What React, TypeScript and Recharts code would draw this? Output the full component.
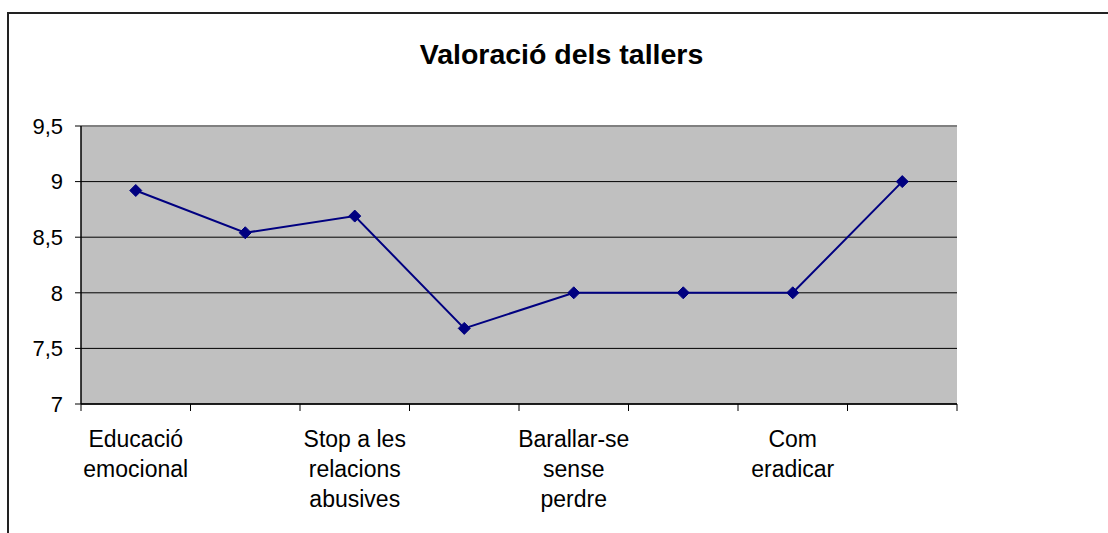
import React from 'react';
import { LineChart, Line, XAxis, YAxis, CartesianGrid, ReferenceLine } from 'recharts';

const chartTitle = 'Valoració dels tallers';
// tick labels, one entry per category (unlabelled categories are empty), split in lines
const xLabelLines: string[][] = [
  ['Educació', 'emocional'],
  [],
  ['Stop a les', 'relacions', 'abusives'],
  [],
  ['Barallar-se', 'sense', 'perdre'],
  [],
  ['Com', 'eradicar'],
  [],
];
const ratings = [8.92, 8.54, 8.69, 7.68, 8.0, 8.0, 8.0, 9.0];
const yTicks = [7, 7.5, 8, 8.5, 9, 9.5];

const data = ratings.map((v, i) => ({ idx: i, value: v }));

const FONT = '"Liberation Sans", Arial, sans-serif';
const NAVY = '#000080';
const TICK_SIZE = 6;
const TICK_MARGIN = 2;

const CatTick = (props: any) => {
  const { x, y, payload, index, width, visibleTicksCount } = props;
  const half =
    payload && payload.offset > 0 ? payload.offset : width / visibleTicksCount / 2;
  const axisY = y - TICK_SIZE - TICK_MARGIN;
  const lines = xLabelLines[payload.value] || [];
  const isLast = index === visibleTicksCount - 1;
  return (
    <g>
      <line x1={x - half} x2={x - half} y1={axisY} y2={axisY + 7} stroke="#000" strokeWidth={1} />
      {isLast && (
        <line x1={x + half} x2={x + half} y1={axisY} y2={axisY + 7} stroke="#000" strokeWidth={1} />
      )}
      {lines.length > 0 && (
        <text
          x={x}
          y={axisY + 43}
          textAnchor="middle"
          fill="#000"
          style={{ fontFamily: FONT, fontSize: 23 }}
        >
          {lines.map((ln, i) => (
            <tspan key={i} x={x} dy={i === 0 ? 0 : 30}>
              {ln}
            </tspan>
          ))}
        </text>
      )}
    </g>
  );
};

const Diamond = (p: any) => {
  const { cx, cy, index } = p;
  if (cx == null || cy == null) return <g key={index} />;
  const r = 6;
  return (
    <polygon
      key={index}
      points={`${cx},${cy - r} ${cx + r},${cy} ${cx},${cy + r} ${cx - r},${cy}`}
      fill={NAVY}
      stroke={NAVY}
      strokeWidth={1}
    />
  );
};

export default function App() {
  return (
    <div
      style={{
        position: 'absolute',
        left: 0,
        top: 0,
        width: 1108,
        height: 533,
        overflow: 'hidden',
        background: '#fff',
        fontFamily: FONT,
      }}
    >
      <div
        style={{
          position: 'absolute',
          left: 7,
          top: 12,
          width: 1300,
          height: 700,
          borderLeft: '2px solid #222',
          borderTop: '2px solid #222',
        }}
      />
      <div
        style={{
          position: 'absolute',
          left: 261.5,
          top: 40,
          width: 600,
          textAlign: 'center',
          fontSize: 28.5,
          lineHeight: '28.5px',
          fontWeight: 'bold',
          color: '#000',
          whiteSpace: 'nowrap',
        }}
      >
        {chartTitle}
      </div>
      <div style={{ position: 'absolute', left: 0, top: 0 }}>
        <LineChart
          width={1108}
          height={533}
          data={data}
          margin={{ top: 126, right: 151, left: 0, bottom: 29 }}
        >
          <CartesianGrid
            vertical={false}
            stroke="#000"
            strokeWidth={1}
            fill="#C0C0C0"
            fillOpacity={1}
          />
          <XAxis
            dataKey="idx"
            type="category"
            scale="band"
            height={100}
            interval={0}
            axisLine={{ stroke: '#000', strokeWidth: 1.5 }}
            tickLine={false}
            tickSize={TICK_SIZE}
            tickMargin={TICK_MARGIN}
            tick={<CatTick />}
          />
          <YAxis
            domain={[7, 9.5]}
            ticks={yTicks}
            width={81}
            interval={0}
            axisLine={{ stroke: '#000', strokeWidth: 1.5 }}
            tickLine={{ stroke: '#000', strokeWidth: 1 }}
            tickSize={6}
            tickMargin={12}
            tick={{ fill: '#000', fontSize: 22, fontFamily: FONT }}
            tickFormatter={(v: number) => String(v).replace('.', ',')}
          />
          <YAxis
            yAxisId="frame"
            orientation="right"
            domain={[7, 9.5]}
            width={0}
            tick={false}
            tickLine={false}
            axisLine={{ stroke: '#808080', strokeWidth: 2 }}
          />
          <ReferenceLine y={9.5} stroke="#808080" strokeWidth={2} ifOverflow="visible" />
          <Line
            dataKey="value"
            stroke={NAVY}
            strokeWidth={2}
            dot={<Diamond />}
            activeDot={false}
            isAnimationActive={false}
          />
        </LineChart>
      </div>
    </div>
  );
}
